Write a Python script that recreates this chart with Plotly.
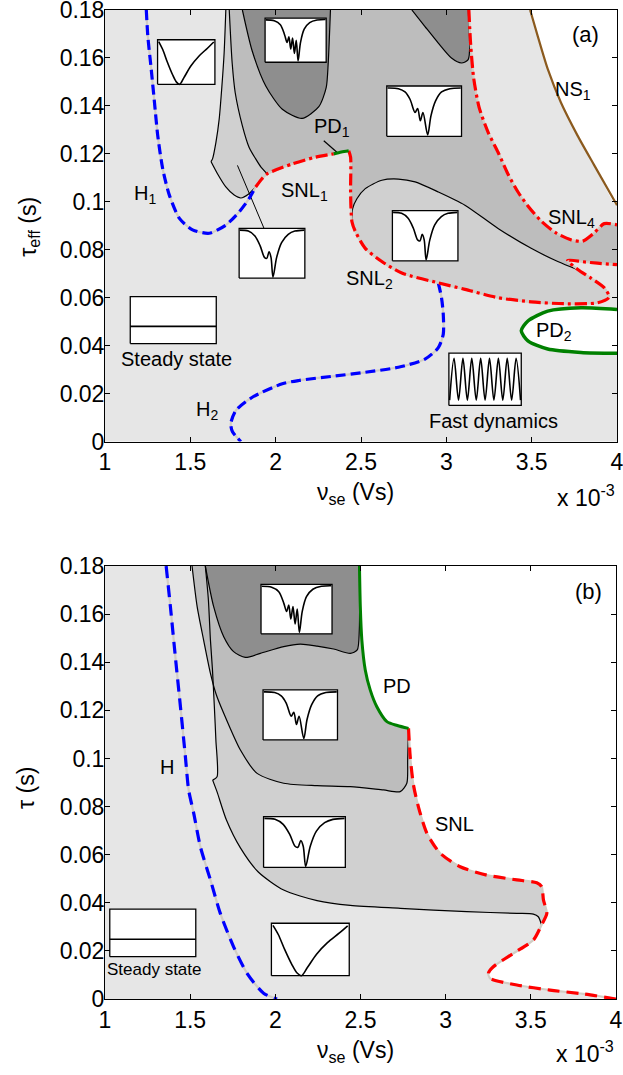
import plotly.graph_objects as go

# ---------------- axes / ticks ----------------
X_RANGE = [1.0, 4.0]
Y_RANGE = [0.0, 0.18]
X_TICKS = [1.0, 1.5, 2.0, 2.5, 3.0, 3.5, 4.0]
X_TICK_TEXT = ["1", "1.5", "2", "2.5", "3", "3.5", "4"]
Y_TICKS = [0.0, 0.02, 0.04, 0.06, 0.08, 0.10, 0.12, 0.14, 0.16, 0.18]
Y_TICK_TEXT = ["0", "0.02", "0.04", "0.06", "0.08", "0.1", "0.12", "0.14", "0.16", "0.18"]

# ---------------- panel (a) curves (nu_se in 1e-3 Vs, tau_eff in s) ----------------
H1_X = [1.242, 1.251, 1.271, 1.290, 1.309, 1.338, 1.377, 1.436, 1.513, 1.611, 1.708, 1.786, 1.844, 1.883]
H1_Y = [0.180, 0.169, 0.1552, 0.1414, 0.1276, 0.1138, 0.1028, 0.0931, 0.0883, 0.0869, 0.0903, 0.0958, 0.1013, 0.1062]

H2_X = [2.953, 2.972, 2.982, 2.982, 2.953, 2.875, 2.719, 2.525, 2.330, 2.136, 2.039, 1.863, 1.767, 1.737, 1.747, 1.796]
H2_Y = [0.0662, 0.0599, 0.0531, 0.0448, 0.0392, 0.0344, 0.0310, 0.0289, 0.0272, 0.0255, 0.0241, 0.0185, 0.0130, 0.0075, 0.0041, 0.0]

LINE1_X = [1.708, 1.698, 1.685, 1.669, 1.650, 1.630, 1.621]
LINE1_Y = [0.180, 0.1621, 0.1483, 0.1345, 0.1248, 0.1179, 0.1168]
CUSPA_X = [1.621, 1.659, 1.708, 1.757, 1.796, 1.844, 1.883]
CUSPA_Y = [0.1168, 0.1117, 0.1062, 0.1028, 0.1016, 0.1034, 0.1062]
LINE2_X = [1.728, 1.745, 1.763, 1.805, 1.844, 1.883, 1.914, 1.951]
LINE2_Y = [0.180, 0.158, 0.1455, 0.1317, 0.1228, 0.1179, 0.1145, 0.1117]

SNL1A_X = [1.883, 1.915, 1.951]
SNL1A_Y = [0.1062, 0.1092, 0.1117]
SNL1B_X = [1.951, 2.097, 2.233, 2.340]
SNL1B_Y = [0.1117, 0.1158, 0.1186, 0.1200]
PD1_X = [2.340, 2.385, 2.428]
PD1_Y = [0.1200, 0.1208, 0.1213]
SNL2V_X = [2.428, 2.439, 2.439, 2.447]
SNL2V_Y = [0.1213, 0.1186, 0.1041, 0.0917]
SNL2LO_X = [2.447, 2.467, 2.525, 2.622, 2.739, 2.953, 3.109, 3.303, 3.497, 3.692, 3.886, 3.954, 3.927, 3.847, 3.770]
SNL2LO_Y = [0.0917, 0.0876, 0.0806, 0.0751, 0.0703, 0.0662, 0.0635, 0.0600, 0.0583, 0.0575, 0.0579, 0.0602, 0.0640, 0.0682, 0.0718]
SNL2UP_X = [3.770, 3.711, 3.800, 3.886, 4.000]
SNL2UP_Y = [0.0718, 0.0756, 0.0750, 0.0744, 0.0738]

BL_X = [2.447, 2.451, 2.476, 2.525, 2.622, 2.719, 2.817, 2.953, 3.109, 3.303, 3.497, 3.653, 3.770]
BL_Y = [0.0917, 0.0972, 0.1013, 0.1055, 0.1090, 0.1095, 0.1083, 0.1041, 0.0986, 0.0889, 0.0806, 0.0751, 0.0717]

SNL3_X = [3.132, 3.142, 3.160, 3.192, 3.245, 3.303, 3.361, 3.420, 3.478, 3.554, 3.641, 3.729, 3.799, 3.867, 3.925, 4.000]
SNL3_Y = [0.180, 0.1662, 0.1517, 0.1394, 0.1290, 0.1207, 0.1116, 0.1041, 0.0983, 0.0921, 0.0871, 0.0842, 0.0836, 0.0871, 0.0909, 0.0904]

NS1_X = [3.491, 3.536, 3.595, 3.672, 3.769, 3.867, 4.000]
NS1_Y = [0.180, 0.169, 0.1552, 0.1413, 0.1276, 0.1152, 0.0986]

PD2_X = [4.000, 3.789, 3.594, 3.478, 3.439, 3.478, 3.594, 3.789, 4.000]
PD2_Y = [0.0551, 0.0558, 0.0544, 0.0503, 0.0462, 0.0420, 0.0386, 0.0372, 0.0368]

DARK1_X = [1.805, 1.863, 1.942, 2.039, 2.155, 2.253, 2.296, 2.308, 2.321]
DARK1_Y = [0.180, 0.1628, 0.1483, 0.1386, 0.1348, 0.1397, 0.1476, 0.1580, 0.180]
DARK2_X = [2.798, 2.875, 2.953, 3.030, 3.089, 3.128, 3.128]
DARK2_Y = [0.180, 0.1731, 0.1662, 0.1600, 0.1579, 0.1593, 0.180]

POINTER_A1_X = [1.932, 1.776]
POINTER_A1_Y = [0.0889, 0.1152]
POINTER_A2_X = [2.282, 2.359]
POINTER_A2_Y = [0.1255, 0.1207]

# ---------------- panel (b) curves ----------------
HB_X = [1.359, 1.384, 1.413, 1.443, 1.472, 1.491, 1.521, 1.560, 1.619, 1.677, 1.755, 1.834, 1.931, 2.010]
HB_Y = [0.180, 0.1631, 0.1423, 0.1215, 0.1007, 0.0869, 0.0772, 0.0633, 0.0495, 0.0356, 0.0217, 0.0107, 0.0024, 0.0]

PDB_X = [2.494, 2.499, 2.508, 2.528, 2.557, 2.596, 2.655, 2.716, 2.782]
PDB_Y = [0.180, 0.1631, 0.1492, 0.1368, 0.1285, 0.1215, 0.1153, 0.1137, 0.1125]

SNLB1_X = [2.782, 2.792, 2.811, 2.840, 2.890, 2.968, 3.085, 3.242, 3.418, 3.535, 3.564, 3.574, 3.594, 3.563]
SNLB1_Y = [0.1125, 0.1007, 0.0890, 0.0799, 0.0689, 0.0606, 0.0550, 0.0515, 0.0495, 0.0483, 0.0467, 0.0412, 0.0356, 0.0308]
SNLB2_X = [3.563, 3.515, 3.398, 3.280, 3.251, 3.261, 3.418, 3.613, 3.808, 4.000]
SNLB2_Y = [0.0308, 0.0245, 0.0190, 0.0134, 0.0107, 0.0086, 0.0058, 0.0037, 0.0021, 0.0]

LINEA_X = [1.511, 1.541, 1.579, 1.619, 1.654, 1.697, 1.795, 1.893, 2.049, 2.245, 2.440, 2.635, 2.733, 2.772, 2.777, 2.782]
LINEA_Y = [0.180, 0.1631, 0.1492, 0.1354, 0.1264, 0.1188, 0.1035, 0.0938, 0.0897, 0.0887, 0.0883, 0.0869, 0.0862, 0.0897, 0.0994, 0.1125]
LINEB_X = [1.589, 1.607, 1.619, 1.631, 1.642, 1.651, 1.658, 1.632]
LINEB_Y = [0.180, 0.1659, 0.1492, 0.1368, 0.1215, 0.1077, 0.0924, 0.0910]
CUSPB_X = [1.632, 1.658, 1.713, 1.795, 1.900, 2.049, 2.245, 2.440, 2.733, 3.124, 3.418, 3.515, 3.544, 3.563]
CUSPB_Y = [0.0910, 0.0861, 0.0744, 0.0628, 0.0528, 0.0453, 0.0409, 0.0389, 0.0377, 0.0363, 0.0356, 0.0353, 0.0342, 0.0308]
DARKB_X = [1.589, 1.638, 1.697, 1.755, 1.824, 1.912, 2.049, 2.147, 2.245, 2.342, 2.440, 2.481, 2.493, 2.494]
DARKB_Y = [0.180, 0.1631, 0.1506, 0.1444, 0.1420, 0.1437, 0.1465, 0.1475, 0.1467, 0.1455, 0.1437, 0.1451, 0.1534, 0.180]

# ---------------- inset pictograms (normalised waveforms) ----------------
WAVES = {
    "dip": ([0.02, 0.09, 0.17, 0.26, 0.33, 0.385, 0.46, 0.58, 0.72, 0.87, 0.98],
            [0.96, 0.78, 0.50, 0.22, 0.05, 0.0, 0.15, 0.41, 0.63, 0.81, 0.95]),
    "w1": ([0.01, 0.14, 0.24, 0.32, 0.385, 0.42, 0.455, 0.485, 0.515, 0.571, 0.646, 0.747, 0.848, 0.99],
           [0.967, 0.947, 0.848, 0.649, 0.417, 0.397, 0.53, 0.417, 0.02, 0.417, 0.715, 0.881, 0.947, 0.967]),
    "w2": ([0.01, 0.156, 0.244, 0.311, 0.378, 0.413, 0.449, 0.484, 0.547, 0.591, 0.653, 0.733, 0.844, 0.99],
           [0.96, 0.947, 0.882, 0.737, 0.474, 0.553, 0.309, 0.474, 0.03, 0.408, 0.704, 0.882, 0.947, 0.96]),
    "w3": ([0.01, 0.15, 0.25, 0.32, 0.36, 0.39, 0.42, 0.45, 0.48, 0.51, 0.54, 0.58, 0.64, 0.73, 0.85, 0.99],
           [0.96, 0.94, 0.85, 0.62, 0.45, 0.58, 0.30, 0.55, 0.20, 0.50, 0.03, 0.45, 0.75, 0.90, 0.96, 0.97]),
    "flat": ([0.0, 1.0], [0.366, 0.366]),
    "fast": ([0.01, 0.071, 0.133, 0.194, 0.255, 0.316, 0.378, 0.439, 0.5, 0.561, 0.622, 0.684, 0.745, 0.806, 0.867, 0.929, 0.99],
             [0.1, 0.9, 0.1, 0.9, 0.1, 0.9, 0.1, 0.9, 0.1, 0.9, 0.1, 0.9, 0.1, 0.9, 0.1, 0.9, 0.1]),
}
# (wave, x0, x1, y0, y1) — inset placement
INSETS_A = [
    ("dip", 1.308, 1.644, 0.149, 0.1676),
    ("w3", 1.938, 2.296, 0.1582, 0.1766),
    ("w2", 2.651, 3.089, 0.1273, 0.1483),
    ("w1", 2.684, 3.068, 0.0754, 0.0963),
    ("w1", 1.786, 2.171, 0.0682, 0.0889),
    ("flat", 1.148, 1.652, 0.0409, 0.0605),
    ("fast", 3.015, 3.439, 0.0151, 0.0369),
]
INSETS_B = [
    ("w3", 1.916, 2.333, 0.1518, 0.1724),
    ("w2", 1.928, 2.365, 0.1077, 0.1285),
    ("w1", 1.931, 2.411, 0.0547, 0.0758),
    ("dip", 1.977, 2.434, 0.0097, 0.0315),
    ("flat", 1.028, 1.533, 0.0176, 0.0374),
]

LABELS_A = [
    ("(a)", 3.818, 0.1697, 22),
    ("NS<sub>1</sub>", 3.74, 0.1465, 20),
    ("PD<sub>1</sub>", 2.33, 0.1310, 20),
    ("SNL<sub>1</sub>", 2.17, 0.1045, 20),
    ("SNL<sub>2</sub>", 2.55, 0.0675, 20),
    ("SNL<sub>4</sub>", 3.735, 0.0930, 20),
    ("H<sub>1</sub>", 1.235, 0.1030, 20),
    ("H<sub>2</sub>", 1.595, 0.0130, 20),
    ("PD<sub>2</sub>", 3.63, 0.0460, 20),
    ("Steady state", 1.417, 0.0344, 20),
    ("Fast dynamics", 3.274, 0.0086, 20),
]
LABELS_B = [
    ("(b)", 3.838, 0.1693, 22),
    ("PD", 2.714, 0.1302, 20),
    ("SNL", 3.050, 0.0727, 20),
    ("H", 1.365, 0.0966, 20),
    ("Steady state", 1.290, 0.0121, 17),
]

# ---------------- styles ----------------
FONT = "Liberation Sans, Arial, Helvetica, sans-serif"
C_LIGHT = "#e6e6e6"
C_W1 = "#d0d0d0"
C_W2 = "#bdbdbd"
C_DARK = "#8e8e8e"
C_BASE = "#d2cdc4"
BLUE = "#0000ff"
RED = "#ff0000"
GREEN = "#008000"
BROWN = "#8b5a1e"
SM = 0.7

fig = go.Figure()


def ax(panel):
    return ("x", "y") if panel == "a" else ("x2", "y2")


def rev(a):
    return list(a)[::-1]


def fill(xs, ys, color, panel):
    xa, ya = ax(panel)
    fig.add_trace(go.Scatter(x=xs, y=ys, mode="lines", fill="toself", fillcolor=color,
                             line=dict(width=0, shape="spline", smoothing=SM, color=color),
                             hoverinfo="skip", showlegend=False, xaxis=xa, yaxis=ya))


def line(xs, ys, color, width, panel, dash=None, shape="spline"):
    xa, ya = ax(panel)
    ld = dict(color=color, width=width, shape=shape)
    if shape == "spline":
        ld["smoothing"] = SM
    if dash:
        ld["dash"] = dash
    fig.add_trace(go.Scatter(x=xs, y=ys, mode="lines", line=ld,
                             hoverinfo="skip", showlegend=False, xaxis=xa, yaxis=ya))


def dashed(xs, ys, color, panel, dash):
    line(xs, ys, C_BASE, 2.2, panel)
    line(xs, ys, color, 3.2, panel, dash=dash)


# ================= panel (a) =================
fill(LINE1_X + CUSPA_X[1:] + SNL1A_X[1:] + rev(LINE2_X)[1:],
     LINE1_Y + CUSPA_Y[1:] + SNL1A_Y[1:] + rev(LINE2_Y)[1:], C_W1, "a")
fill(BL_X + rev(SNL2LO_X)[1:], BL_Y + rev(SNL2LO_Y)[1:], C_W1, "a")
fill(LINE2_X + SNL1B_X[1:] + PD1_X[1:] + SNL2V_X[1:] + BL_X[1:] + SNL2UP_X[1:] + rev(SNL3_X),
     LINE2_Y + SNL1B_Y[1:] + PD1_Y[1:] + SNL2V_Y[1:] + BL_Y[1:] + SNL2UP_Y[1:] + rev(SNL3_Y), C_W2, "a")
fill(DARK1_X, DARK1_Y, C_DARK, "a")
fill(DARK2_X, DARK2_Y, C_DARK, "a")
fill(NS1_X + [X_RANGE[1]], NS1_Y + [Y_RANGE[1]], "white", "a")
fill(PD2_X, PD2_Y, "white", "a")

for xs, ys in [(LINE1_X, LINE1_Y), (CUSPA_X, CUSPA_Y), (LINE2_X, LINE2_Y), (BL_X, BL_Y),
               (DARK1_X, DARK1_Y), (DARK2_X, DARK2_Y)]:
    line(xs, ys, "black", 1.2, "a")
line(POINTER_A1_X, POINTER_A1_Y, "black", 1.0, "a", shape="linear")
line(POINTER_A2_X, POINTER_A2_Y, "black", 1.2, "a", shape="linear")

DASH_A_BLUE = "10px,5px"
DASH_A_RED = "12px,4px,3px,4px"
dashed(H1_X, H1_Y, BLUE, "a", DASH_A_BLUE)
dashed(H2_X, H2_Y, BLUE, "a", DASH_A_BLUE)
dashed(SNL1A_X + SNL1B_X[1:], SNL1A_Y + SNL1B_Y[1:], RED, "a", DASH_A_RED)
dashed(SNL2V_X + SNL2LO_X[1:] + SNL2UP_X[1:], SNL2V_Y + SNL2LO_Y[1:] + SNL2UP_Y[1:], RED, "a", DASH_A_RED)
dashed(SNL3_X, SNL3_Y, RED, "a", DASH_A_RED)
line(PD1_X, PD1_Y, GREEN, 3.2, "a")
line(PD2_X, PD2_Y, GREEN, 3.5, "a")
line(NS1_X, NS1_Y, BROWN, 2.2, "a")

# ================= panel (b) =================
fill(PDB_X + SNLB1_X[1:] + SNLB2_X[1:] + [X_RANGE[1]],
     PDB_Y + SNLB1_Y[1:] + SNLB2_Y[1:] + [Y_RANGE[1]], "white", "b")
fill(LINEB_X + CUSPB_X[1:] + rev(SNLB1_X)[1:] + rev(PDB_X)[1:],
     LINEB_Y + CUSPB_Y[1:] + rev(SNLB1_Y)[1:] + rev(PDB_Y)[1:], C_W1, "b")
fill(LINEA_X + rev(PDB_X)[1:], LINEA_Y + rev(PDB_Y)[1:], C_W2, "b")
fill(DARKB_X, DARKB_Y, C_DARK, "b")

for xs, ys in [(LINEA_X, LINEA_Y), (LINEB_X, LINEB_Y), (CUSPB_X, CUSPB_Y), (DARKB_X, DARKB_Y)]:
    line(xs, ys, "black", 1.2, "b")

DASH_B = "12px,7px"
dashed(HB_X, HB_Y, BLUE, "b", DASH_B)
dashed(SNLB1_X + SNLB2_X[1:], SNLB1_Y + SNLB2_Y[1:], RED, "b", DASH_B)
line(PDB_X, PDB_Y, GREEN, 3.0, "b")


# ================= insets =================
def inset(spec, panel):
    kind, x0, x1, y0, y1 = spec
    xa, ya = ax(panel)
    fig.add_trace(go.Scatter(x=[x0, x1, x1, x0, x0], y=[y0, y0, y1, y1, y0], mode="lines",
                             fill="toself", fillcolor="white", line=dict(color="black", width=1.3),
                             hoverinfo="skip", showlegend=False, xaxis=xa, yaxis=ya))
    u, v = WAVES[kind]
    wx = [x0 + a * (x1 - x0) for a in u]
    wy = [y0 + b * (y1 - y0) for b in v]
    shape = "linear" if kind == "flat" else "spline"
    ld = dict(color="black", width=1.6, shape=shape)
    if shape == "spline":
        ld["smoothing"] = 0.9
    fig.add_trace(go.Scatter(x=wx, y=wy, mode="lines", line=ld,
                             hoverinfo="skip", showlegend=False, xaxis=xa, yaxis=ya))


for s in INSETS_A:
    inset(s, "a")
for s in INSETS_B:
    inset(s, "b")

# ================= annotations =================
ann = []
for t, x, y, sz in LABELS_A:
    ann.append(dict(text=t, x=x, y=y, xref="x", yref="y", showarrow=False,
                    font=dict(size=sz, family=FONT, color="black")))
for t, x, y, sz in LABELS_B:
    ann.append(dict(text=t, x=x, y=y, xref="x2", yref="y2", showarrow=False,
                    font=dict(size=sz, family=FONT, color="black")))

TITLE_FONT = dict(size=23, family=FONT, color="black")
ann += [
    dict(text="ν<sub>se</sub> (Vs)", x=0.49, y=0.511, xref="paper", yref="paper", showarrow=False,
         font=TITLE_FONT, xanchor="center", yanchor="middle"),
    dict(text="x 10<sup>-3</sup>", x=1.0, y=0.509, xref="paper", yref="paper", showarrow=False,
         font=TITLE_FONT, xanchor="right", yanchor="middle"),
    dict(text="ν<sub>se</sub> (Vs)", x=0.49, y=-0.053, xref="paper", yref="paper", showarrow=False,
         font=TITLE_FONT, xanchor="center", yanchor="middle"),
    dict(text="x 10<sup>-3</sup>", x=0.998, y=-0.054, xref="paper", yref="paper", showarrow=False,
         font=TITLE_FONT, xanchor="right", yanchor="middle"),
    dict(text="τ<sub>eff</sub> (s)", x=-0.148, y=0.781, xref="paper", yref="paper", showarrow=False,
         font=TITLE_FONT, textangle=-90, xanchor="center", yanchor="middle"),
    dict(text="τ (s)", x=-0.153, y=0.213, xref="paper", yref="paper", showarrow=False,
         font=TITLE_FONT, textangle=-90, xanchor="center", yanchor="middle"),
]

common = dict(ticks="inside", ticklen=5, tickwidth=1, tickcolor="black", showline=True,
              linecolor="black", linewidth=1, mirror="ticks", showgrid=False, zeroline=False,
              automargin=False, ticklabeloverflow="allow",
              tickfont=dict(size=23, family=FONT, color="black"))
xcommon = dict(common, range=X_RANGE, tickvals=X_TICKS, ticktext=X_TICK_TEXT)
ycommon = dict(common, range=Y_RANGE, tickvals=Y_TICKS, ticktext=Y_TICK_TEXT, ticklabelstandoff=-5)

fig.update_layout(
    width=623, height=1075,
    margin=dict(l=105, r=6, t=10, b=76),
    plot_bgcolor=C_LIGHT, paper_bgcolor="white",
    showlegend=False,
    font=dict(family=FONT, color="black"),
    xaxis=dict(xcommon, domain=[0, 1], anchor="y"),
    yaxis=dict(ycommon, domain=[0.5636, 1], anchor="x"),
    xaxis2=dict(xcommon, domain=[0, 0.998], anchor="y2"),
    yaxis2=dict(ycommon, domain=[0, 0.4378], anchor="x2"),
    annotations=ann,
)

fig.write_html("out.html", config={"displayModeBar": False},
               post_script="document.body.style.margin='0px';document.body.style.padding='0px';")
